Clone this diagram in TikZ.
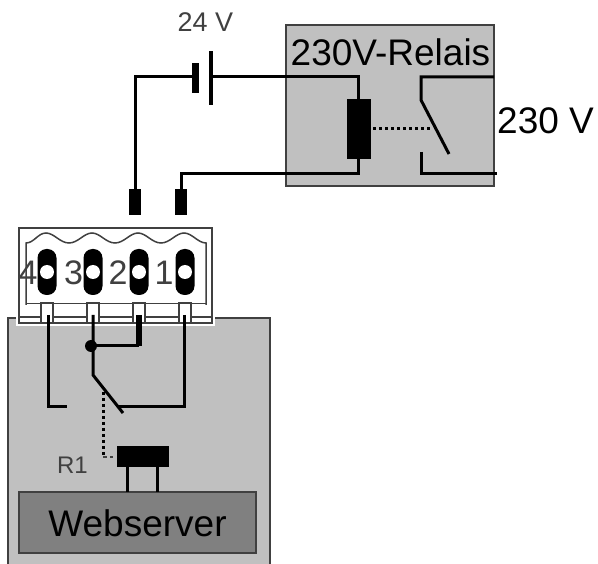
\documentclass[tikz,border=0pt]{standalone}
\usepackage{fontspec}
\setmainfont{Liberation Sans}
\definecolor{boxgray}{HTML}{C0C0C0}
\definecolor{srvgray}{HTML}{808080}
\definecolor{edge}{HTML}{404040}
\newcommand{\fsz}[1]{\fontsize{#1}{#1}\selectfont}
\tikzset{
  wire/.style={line width=3pt,black,line join=miter},
  dot wire/.style={line width=3pt,black,dash pattern=on 3pt off 3pt},
  solidblock/.style={fill=black,draw=none,inner sep=0pt,outer sep=0pt},
  label big/.style={inner sep=0pt,text=black,font=\fsz{37}},
  label digit/.style={inner sep=0pt,text=edge,font=\fsz{34}},
  label small/.style={inner sep=0pt,text=black!75,font=\fsz{25}},
  frame/.style={draw=edge,line width=2pt,inner sep=0pt,outer sep=0pt},
  thinl/.style={draw=edge,line width=1.5pt},
  slot/.style={solidblock,rounded corners=9pt,minimum width=19pt,minimum height=46pt},
  hole/.style={circle,fill=white,draw=none,minimum size=14pt,inner sep=0pt},
  pin/.style={draw=edge,line width=1.5pt,fill=white,inner sep=0pt,minimum width=12pt,minimum height=20pt},
}
\begin{document}
\begin{tikzpicture}[x=1pt,y=-1pt]
\useasboundingbox (0,0) rectangle (598,564);
% main gray housing
\fill[boxgray] (8,318) rectangle (270,564);
\draw[edge,line width=2pt] (8,564) -- (8,318) -- (270,318) -- (270,564);
% relay box
\node[frame,fill=boxgray,minimum width=208pt,minimum height=161pt] (relay) at (390,105.5) {};
\node[label big,anchor=center] (relaylabel) at (390.5,52) {230V-Relais};
\node[label big,anchor=west] (vlabel) at (497,121) {230 V};
% battery
\node[solidblock,minimum width=7pt,minimum height=30pt] (batneg) at (195,78) {};
\node[solidblock,minimum width=4pt,minimum height=54pt] (batpos) at (211,78) {};
\node[label small,anchor=center,font=\fsz{27}] (batlabel) at (205.5,22) {24 V};
% coil
\node[solidblock,minimum width=24pt,minimum height=60pt] (coil) at (359,129) {};
% plugs
\node[solidblock,minimum width=12pt,minimum height=26pt] (plugA) at (135,202) {};
\node[solidblock,minimum width=12pt,minimum height=26pt] (plugB) at (181,202) {};
% relay wiring
\coordinate (c1) at (135,77);
\coordinate (c2) at (358,77);
\coordinate (c3) at (358,174);
\coordinate (c4) at (181,174);
\draw[wire] (plugA.north) -- (c1) -- (c1-|batneg.west);
\draw[wire] (batpos.east|-c2) -- (c2) -- (c2|-coil.north);
\draw[wire] (c2|-coil.south) -- (c3) -- (c4) -- (plugB.north);
% relay switch
\coordinate (s1) at (494,77);
\coordinate (s2) at (421,77);
\coordinate (s3) at (421,100);
\coordinate (s4) at (449,154);
\coordinate (s5) at (421,152);
\coordinate (s6) at (421,174);
\coordinate (s7) at (497,174);
\coordinate (s8) at (432,129);
\draw[wire] (s1) -- (s2) -- (s3) -- (s4);
\draw[wire] (s5) -- (s6) -- (s7);
\draw[dot wire] (coil.east|-s8) ++(2,0) -- (s8);
% connector block
\fill[white] (16,226) rectangle (215,326);
\node[frame,minimum width=193pt,minimum height=95pt] (conn) at (115.5,275.5) {};
\draw[thinl] (26,305) -- (26,243) .. controls (34,243) and (38,233) .. (46,233)
  .. controls (54,233) and (60,243) .. (69,243) .. controls (78,243) and (84,233) .. (92,233)
  .. controls (100,233) and (106,243) .. (115,243) .. controls (124,243) and (130,233) .. (138,233)
  .. controls (146,233) and (152,243) .. (161,243) .. controls (170,243) and (176,233) .. (184,233)
  .. controls (192,233) and (198,243) .. (206,243) -- (206,305);
\draw[thinl] (26,303.5) -- (206,303.5);
\draw[thinl] (20,317) -- (211,317);
\foreach \n/\x in {4/47,3/93,2/139,1/185}{
  \node[pin] (pin\n) at (\x,313) {};
  \node[slot] (slot\n) at (\x,272) {};
  \node[hole] (hole\n) at (\x,272) {};
}
\node[label digit,anchor=center] (n4) at (28,273) {4};
\node[label digit,anchor=center] (n3) at (73.5,273) {3};
\node[label digit,anchor=center] (n2) at (118,273) {2};
\node[label digit,anchor=center] (n1) at (164,273) {1};
% webserver wiring
\coordinate (j) at (91,346);
\coordinate (w4a) at (48,407);
\coordinate (w4b) at (67,407);
\coordinate (w3) at (93,375);
\coordinate (w2) at (139,346);
\coordinate (w1) at (184,407);
\coordinate (sw) at (123,413);
\coordinate (w1b) at (118,407);
\draw[wire] (pin4.center) ++(1,2) -- (w4a) -- (w4b);
\draw[wire] (pin3.center) ++(0,2) -- (w3) -- (sw);
\draw[wire] (j) -- (w2);
\draw[line width=6pt] (pin2.center) ++(0,2) -- (w2);
\draw[wire] (pin1.center) ++(-1,2) -- (w1) -- (w1b);
\fill[black] (j) circle (6pt);
% R1
\node[solidblock,minimum width=52pt,minimum height=21pt] (r1) at (143,456.5) {};
\node[label small,anchor=center,font=\fsz{24}] (r1label) at (72.5,465) {R1};
\coordinate (d1) at (103,392);
\coordinate (d2) at (103,457);
\coordinate (d3) at (113,457);
\draw[dot wire] (d1) -- (d2);
\draw[edge,line width=1.5pt,dash pattern=on 4pt off 3pt] (d2) -- (d3);
% webserver
\node[frame,fill=srvgray,minimum width=237pt,minimum height=61pt] (web) at (137.5,522.5) {};
\node[label big,anchor=center,text=black] (weblabel) at (137.5,523) {Webserver};
\draw[wire] (127,467) -- (127,492);
\draw[wire] (157,467) -- (157,492);
\end{tikzpicture}
\end{document}
